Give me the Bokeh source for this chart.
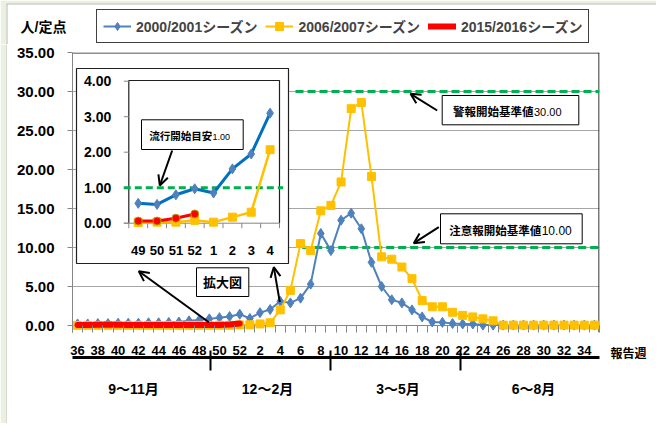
from bokeh.plotting import figure
from bokeh.layouts import column, row
from bokeh.models import (Range1d, FixedTicker, PrintfTickFormatter, Legend, LegendItem,
                          Label, Arrow, OpenHead, BoxAnnotation, LinearAxis)
from bokeh.embed import file_html
from bokeh.resources import INLINE
from bokeh.core.properties import value

# ---------------- data ----------------
weeks = list(range(36, 53)) + list(range(1, 36))

blue_2000 = [0.20, 0.20, 0.25, 0.25, 0.30, 0.30, 0.30, 0.35, 0.35, 0.40, 0.45, 0.60, 0.70,
             0.85, 1.00, 1.15, 1.45,
             0.90, 1.65, 2.05, 3.10, 2.90, 3.50, 5.30, 11.80, 9.60, 13.50, 14.40, 12.40,
             8.10, 5.00, 3.30, 2.90, 2.00, 1.10, 0.45, 0.40, 0.25, 0.20, 0.20, 0.05,
             0.05, 0.05, 0.05, 0.05, 0.05, 0.05, 0.05, 0.05, 0.05, 0.05, 0.05]

yellow_2006 = [0.02, 0.02, 0.02, 0.02, 0.02, 0.02, 0.02, 0.02, 0.02, 0.02, 0.02, 0.02, 0.02,
               0.02, 0.03, 0.03, 0.08,
               0.10, 0.20, 0.35, 2.00, 4.50, 10.50, 9.60, 14.70, 15.40, 18.40, 27.80, 28.60,
               19.10, 8.80, 8.50, 7.50, 6.00, 3.20, 2.40, 2.40, 1.70, 1.30, 1.10, 0.85,
               0.60, 0.05, 0.05, 0.05, 0.05, 0.05, 0.05, 0.05, 0.05, 0.05, 0.05]

red_2015 = [0.08, 0.08, 0.10, 0.12, 0.10, 0.08, 0.08, 0.08, 0.08, 0.08, 0.08, 0.08, 0.08,
            0.06, 0.06, 0.14, 0.26]

inset_weeks = [49, 50, 51, 52, 1, 2, 3, 4]
inset_blue = [0.56, 0.53, 0.80, 0.97, 0.85, 1.53, 1.95, 3.10]
inset_yellow = [0.02, 0.03, 0.03, 0.08, 0.03, 0.17, 0.31, 2.07]
inset_red = [0.06, 0.06, 0.14, 0.26]

y_ticks = [0, 5, 10, 15, 20, 25, 30, 35]
inset_y_ticks = [0, 1, 2, 3, 4]
main_thresholds = [30.0, 10.0]
inset_threshold = [1.0]
months = ["9～11月", "12～2月", "3～5月", "6～8月"]
series_names = ["2000/2001シーズン", "2006/2007シーズン", "2015/2016シーズン"]

# ---------------- layout constants (page pixels) ----------------
TOTAL_W = 656
TOP_H = 44
STRIP_W = 7
SIDE_W = 56
MAIN_H = 379
MAIN_W = TOTAL_W - STRIP_W - SIDE_W          # main figure spans page x 7..600

PX_L, PX_R, PX_T, PX_B = 72, 599, 52, 332     # main frame in page pixels
Y0_PX = 325
PPU = (Y0_PX - PX_T) / 35.0
y_start = -(PX_B - Y0_PX) / PPU
CW = (PX_R - PX_L) / len(weeks)

INSET_L, INSET_R, INSET_T, INSET_Y0 = 128.3, 279.0, 80.0, 222.7
INSET_PPU = 35.5
INSET_CW = (INSET_R - INSET_L) / len(inset_weeks)


def ix_of(px):
    return (px - INSET_L) / INSET_CW - 0.5


def iv_of(py):
    return (INSET_Y0 - py) / INSET_PPU


def wk_of(px):
    return (px - PX_L) / CW - 0.5


FONT = "'Liberation Sans', 'Noto Sans CJK JP', sans-serif"
GRAY = "#868686"
BLUE = "#4F81BD"
BLUE2 = "#0070C0"
YELLOW = "#FFC000"
RED = "#FF0000"
GREEN = "#00B050"
PALE = "#EBF1DE"
EDGE = "#B8B8B8"

x_idx = list(range(len(weeks)))


def no_align(f):
    if "frame_align" in f.properties():
        f.frame_align = False


def bare(w, h, xr, yr):
    f = figure(width=w, height=h, output_backend="svg", toolbar_location=None,
               x_range=xr, y_range=yr, min_border=0, x_axis_type=None, y_axis_type=None)
    f.outline_line_color = None
    f.xgrid.visible = False
    f.ygrid.visible = False
    f.background_fill_color = "white"
    f.border_fill_color = "white"
    no_align(f)
    return f


def label_on(fig, x, y, text, size, bold=True, align="left", xr="default", yr="default"):
    fig.add_layout(Label(x=x, y=y, text=text, x_range_name=xr, y_range_name=yr,
                         text_align=align, text_baseline="middle", text_font=FONT,
                         text_font_size=size, text_font_style="bold" if bold else "normal",
                         text_color="black"))


# ---------------- top strip: title + legend ----------------
top = bare(TOTAL_W, TOP_H, Range1d(0, TOTAL_W), Range1d(TOP_H, 0))
top.quad(left=[0], right=[TOTAL_W], top=[0], bottom=[3], fill_color=PALE, line_color=None)
top.quad(left=[0], right=[6], top=[0], bottom=[TOP_H], fill_color=PALE, line_color=None)
top.segment(x0=[6, 6.5], x1=[TOTAL_W, 6.5], y0=[3.5, 3.5], y1=[3.5, TOP_H], line_color=EDGE, line_width=1)
label_on(top, 43, 26, "人/定点", "14px", align="center")

top.extra_x_ranges = {"off": Range1d(1000, 1001)}
lb = top.line(x_idx, blue_2000, x_range_name="off", line_color=BLUE, line_width=2)
lbs = top.scatter(x_idx, blue_2000, x_range_name="off", marker="diamond", size=10,
                  fill_color=BLUE, line_color=BLUE)
ly = top.line(x_idx, yellow_2006, x_range_name="off", line_color=YELLOW, line_width=2)
lys = top.scatter(x_idx, yellow_2006, x_range_name="off", marker="square", size=8,
                  fill_color=YELLOW, line_color=YELLOW)
lr = top.line(x_idx[:len(red_2015)], red_2015, x_range_name="off", line_color=RED,
              line_width=6, line_cap="round")
legend = Legend(items=[LegendItem(label=series_names[0], renderers=[lb, lbs]),
                       LegendItem(label=series_names[1], renderers=[ly, lys]),
                       LegendItem(label=series_names[2], renderers=[lr])],
                orientation="horizontal", location=(96, 1),
                padding=6, spacing=8, glyph_width=28, glyph_height=20, label_height=20,
                label_standoff=5, margin=0,
                label_text_font=FONT, label_text_font_size="14px", label_text_font_style="bold",
                border_line_color="#404040", border_line_width=1, border_line_alpha=1,
                background_fill_color="white", background_fill_alpha=1)
top.add_layout(legend)

# ---------------- left pale strip ----------------
strip = bare(STRIP_W, MAIN_H, Range1d(0, STRIP_W), Range1d(0, 1))
strip.quad(left=[0], right=[6], top=[1], bottom=[0], fill_color=PALE, line_color=None)
strip.segment(x0=[6.5], x1=[6.5], y0=[0], y1=[1], line_color=EDGE, line_width=1)

# ---------------- right side: 報告週 ----------------
side = bare(SIDE_W, MAIN_H, Range1d(MAIN_W + STRIP_W, TOTAL_W), Range1d(TOP_H + MAIN_H, TOP_H))
label_on(side, 610, 353, "報告週", "12px", align="left")

# ---------------- main chart ----------------
p = figure(width=MAIN_W, height=MAIN_H, output_backend="svg", toolbar_location=None,
           x_range=Range1d(-0.5, len(weeks) - 0.5), y_range=Range1d(y_start, 35),
           min_border_left=PX_L - STRIP_W, min_border_right=(STRIP_W + MAIN_W) - PX_R,
           min_border_top=PX_T - TOP_H, min_border_bottom=(TOP_H + MAIN_H) - PX_B)
p.outline_line_color = None
p.background_fill_color = "white"
p.border_fill_color = "white"
no_align(p)

p.extra_x_ranges = {"sx": Range1d(PX_L, PX_R), "ix": Range1d(ix_of(PX_L), ix_of(PX_R))}
p.extra_y_ranges = {"sy": Range1d(PX_B, PX_T), "iy": Range1d(iv_of(PX_B), iv_of(PX_T))}

# week axis
xa = p.xaxis[0]
xa.ticker = FixedTicker(ticks=list(range(0, len(weeks), 2)),
                        minor_ticks=[i - 0.5 for i in range(len(weeks) + 1)])
xa.major_label_overrides = {i: str(weeks[i]) for i in range(0, len(weeks), 2)}
xa.axis_line_color = None
xa.major_tick_line_color = None
xa.major_tick_in = 0
xa.major_tick_out = 0
xa.minor_tick_in = 7
xa.minor_tick_out = 0
xa.minor_tick_line_color = GRAY
xa.major_label_standoff = 13
xa.major_label_text_font = FONT
xa.major_label_text_font_size = "13px"
xa.major_label_text_font_style = "bold"
xa.major_label_text_color = "black"

# month axis (second axis below)
month_centers = [wk_of(v) for v in (133, 267, 397.5, 533)]
month_seps = [wk_of(v) for v in (210, 330, 460)]
ma = LinearAxis(ticker=FixedTicker(ticks=month_centers, minor_ticks=month_seps))
ma.major_label_overrides = {c: m for c, m in zip(month_centers, months)}
ma.axis_line_color = "black"
ma.axis_line_width = 3
ma.major_tick_line_color = None
ma.major_tick_in = 0
ma.major_tick_out = 0
ma.minor_tick_in = 7
ma.minor_tick_out = 13
ma.minor_tick_line_color = "black"
ma.minor_tick_line_width = 2
ma.major_label_standoff = 10
ma.major_label_text_font = FONT
ma.major_label_text_font_size = "14px"
ma.major_label_text_font_style = "bold"
ma.major_label_text_color = "black"
p.add_layout(ma, "below")

# y axis
ya = p.yaxis[0]
ya.ticker = FixedTicker(ticks=y_ticks)
ya.formatter = PrintfTickFormatter(format="%.2f")
ya.axis_line_color = GRAY
ya.major_tick_line_color = GRAY
ya.major_tick_in = 0
ya.major_tick_out = 5
ya.minor_tick_line_color = None
ya.major_label_standoff = 13
ya.major_label_text_font = FONT
ya.major_label_text_font_size = "15px"
ya.major_label_text_font_style = "bold"
ya.major_label_text_color = "black"

p.xgrid.visible = False
p.ygrid.ticker = FixedTicker(ticks=y_ticks)
p.ygrid.grid_line_color = "#A6A6A6"

# plot-area top and right edges
p.segment(x0=[PX_L, PX_R - 0.5], x1=[PX_R, PX_R - 0.5], y0=[PX_T + 0.5, PX_T], y1=[PX_T + 0.5, PX_B],
          x_range_name="sx", y_range_name="sy", line_color="#202020", line_width=1.2)

# inset box (white, above grid)
p.quad(left=[76], right=[288], top=[68], bottom=[263], x_range_name="sx", y_range_name="sy",
       fill_color="white", line_color="#202020", line_width=1.2)

# main threshold lines
p.segment(x0=[295, 301.7], x1=[PX_R, PX_R], y0=main_thresholds, y1=main_thresholds,
          x_range_name="sx", line_color=GREEN, line_width=3, line_dash="8 4")

# x axis line at 0
p.segment(x0=[-0.5], x1=[len(weeks) - 0.5], y0=[0], y1=[0], line_color=GRAY, line_width=1)

# main series
p.line(x_idx, blue_2000, line_color=BLUE, line_width=2)
p.scatter(x_idx, blue_2000, marker="diamond", size=10, fill_color=BLUE, line_color=BLUE)
p.line(x_idx, yellow_2006, line_color=YELLOW, line_width=2)
p.scatter(x_idx, yellow_2006, marker="square", size=8, fill_color=YELLOW, line_color=YELLOW)
p.line(x_idx[:len(red_2015)], red_2015, line_color=RED, line_width=6, line_cap="round")

# ---------------- inset ----------------
ij = list(range(len(inset_weeks)))
p.multi_line(xs=[[INSET_L, INSET_L, INSET_R, INSET_R]], ys=[[INSET_Y0, INSET_T, INSET_T, INSET_Y0]],
             x_range_name="sx", y_range_name="sy", line_color="#202020", line_width=1.2)
p.segment(x0=[INSET_L - 5], x1=[INSET_R], y0=[0], y1=[0], x_range_name="sx", y_range_name="iy",
          line_color=GRAY, line_width=1)
p.segment(x0=[INSET_L - 5] * len(inset_y_ticks), x1=[INSET_L] * len(inset_y_ticks),
          y0=inset_y_ticks, y1=inset_y_ticks, x_range_name="sx", y_range_name="iy",
          line_color=GRAY, line_width=1)
bounds = [j - 0.5 for j in range(len(inset_weeks) + 1)]
p.segment(x0=bounds, x1=bounds, y0=[INSET_Y0] * len(bounds), y1=[INSET_Y0 + 5] * len(bounds),
          x_range_name="ix", y_range_name="sy", line_color=GRAY, line_width=1)
p.text(x=[110.7] * len(inset_y_ticks), y=inset_y_ticks, text=["%.2f" % t for t in inset_y_ticks],
       x_range_name="sx", y_range_name="iy", text_align="right", text_baseline="middle",
       text_font=value(FONT), text_font_size="14px", text_font_style="bold", text_color="black")
p.text(x=ij, y=[250] * len(ij), text=[str(w) for w in inset_weeks],
       x_range_name="ix", y_range_name="sy", text_align="center", text_baseline="middle",
       text_font=value(FONT), text_font_size="13px", text_font_style="bold", text_color="black")
p.segment(x0=[INSET_L - 5], x1=[282.7], y0=inset_threshold, y1=inset_threshold,
          x_range_name="sx", y_range_name="iy", line_color=GREEN, line_width=3, line_dash="7 4")
p.line(ij, inset_blue, x_range_name="ix", y_range_name="iy", line_color=BLUE2, line_width=3)
p.scatter(ij, inset_blue, x_range_name="ix", y_range_name="iy", marker="diamond", size=10,
          fill_color=BLUE, line_color=BLUE)
p.line(ij, inset_yellow, x_range_name="ix", y_range_name="iy", line_color=YELLOW, line_width=2.5)
p.scatter(ij, inset_yellow, x_range_name="ix", y_range_name="iy", marker="square", size=8,
          fill_color=YELLOW, line_color=YELLOW)
p.line(ij[:len(inset_red)], inset_red, x_range_name="ix", y_range_name="iy", line_color=RED, line_width=3)
p.scatter(ij[:len(inset_red)], inset_red, x_range_name="ix", y_range_name="iy", marker="circle",
          size=8, fill_color=RED, line_color="#B0A000", line_width=1)


# ---------------- annotations (page coordinates) ----------------
def box(l, t, r, b):
    p.add_layout(BoxAnnotation(left=l, right=r, top=t, bottom=b, x_range_name="sx", y_range_name="sy",
                               fill_color="white", fill_alpha=1, line_color="black", line_alpha=1,
                               line_width=1))


def label(x, y, text, size, bold=True, align="left"):
    label_on(p, x, y, text, size, bold=bold, align=align, xr="sx", yr="sy")


def arrow(x0, y0, x1, y1):
    p.add_layout(Arrow(x_start=x0, y_start=y0, x_end=x1, y_end=y1, x_range_name="sx", y_range_name="sy",
                       end=OpenHead(size=10, line_width=2, line_color="black"),
                       line_color="black", line_width=2))


box(441.7, 95, 578.3, 124.3)
label(533, 111, "警報開始基準値", "11.5px", align="right")
label(533.5, 111, "30.00", "11px", bold=False)
arrow(436.7, 110, 410, 93.3)

box(440, 213.3, 581.7, 243.3)
label(540.7, 230, "注意報開始基準値", "11.5px", align="right")
label(541.2, 230, "10.00", "12px", bold=False)
arrow(438.3, 226.7, 413.3, 242.7)

box(141, 119.3, 242.7, 149)
label(211.7, 135, "流行開始目安", "10.5px", align="right")
label(212, 136, "1.00", "9px", bold=False)
arrow(171.7, 150, 159.3, 185)

box(196, 267.3, 248.3, 296)
label(222, 281.7, "拡大図", "13px", align="center")
arrow(208.3, 321.7, 138.3, 270.7)
arrow(279.3, 301.7, 273.3, 266.7)

layout = column(top, row(strip, p, side))
open("out.html", "w").write(file_html(layout, INLINE))
